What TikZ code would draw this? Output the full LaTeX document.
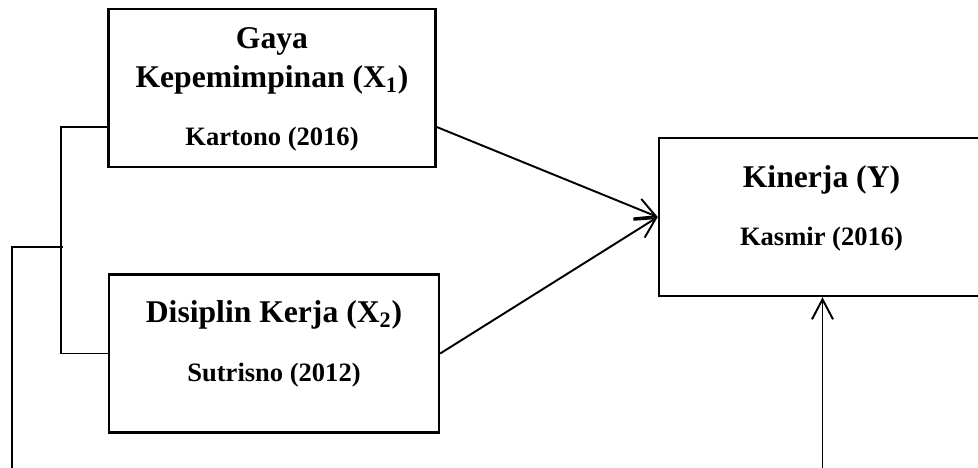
\documentclass[tikz,border=0pt]{standalone}
\usepackage{fontspec}
\setmainfont{Liberation Serif}
\usetikzlibrary{arrows.meta}

\begin{document}
\begin{tikzpicture}[line width=1.1pt, >={Straight Barb[length=0.4cm,width=0.42cm]},
    var node/.style={rectangle,draw,line width=1.4pt,minimum width=6.54cm,minimum height=3.16cm},
    head text/.style={anchor=base,font=\fontsize{18}{20}\selectfont\bfseries},
    ref text/.style={anchor=base,font=\fontsize{15.1}{17}\selectfont\bfseries}]

                \useasboundingbox (0,0) rectangle (19.56,-9.36);

                \node[var node] at (5.44, -1.76) (gaya) {};
                \node[var node, minimum width=6.6cm] at (5.48, -7.07) (disiplin) {};
                \node[var node] at (16.45, -4.34) (kinerja) {};

                \node[head text] at (5.44, -0.98) (gayaA) {Gaya};
                \node[head text] at (5.44, -1.76) (gayaB) {Kepemimpinan (X\textsubscript{1})};
                \node[ref text] at (5.44, -2.92) (gayaRef) {Kartono (2016)};

                \node[head text] at (5.48, -6.46) (disiplinA) {Disiplin Kerja (X\textsubscript{2})};
                \node[ref text] at (5.48, -7.64) (disiplinRef) {Sutrisno (2012)};

                \node[head text] at (16.43, -3.76) (kinerjaA) {Kinerja (Y)};
                \node[ref text] at (16.43, -4.92) (kinerjaRef) {Kasmir (2016)};

                \coordinate (mid) at (1.26, -4.94);
                \coordinate (leftEnd) at (0.24, -9.36);
                \coordinate (bottomEnd) at (kinerja.south |- leftEnd);

                \path[->] ([yshift=-0.78cm]gaya.east) edge (kinerja.west);
                \path[->] (disiplin.east) edge (kinerja.west);
                \path[->] (bottomEnd) edge (kinerja.south);

                \draw ([yshift=-0.78cm]gaya.west) -- ++(-0.92,0) |- (disiplin.west);
                \draw (mid) -| (leftEnd);
            \end{tikzpicture}
\end{document}
